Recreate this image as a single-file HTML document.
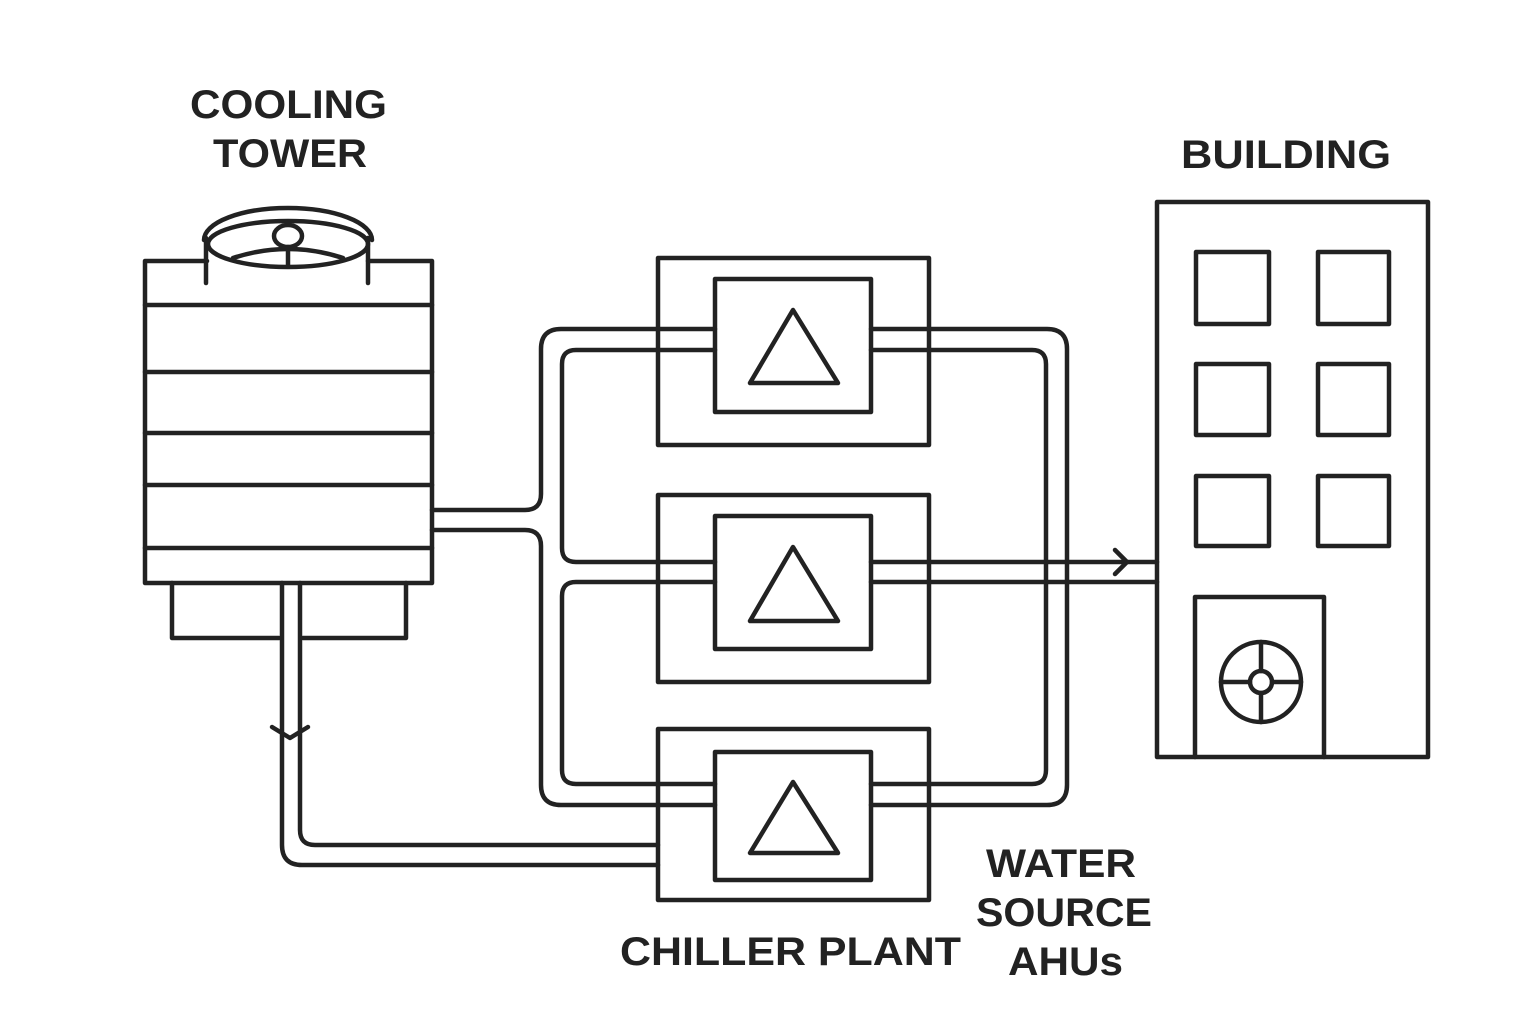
<!DOCTYPE html>
<html><head><meta charset="utf-8"><style>
html,body{margin:0;padding:0;background:#fff;}
svg{display:block;}
text{font-family:"Liberation Sans",sans-serif;font-weight:bold;fill:#222;font-size:40px;}
</style></head><body>
<svg width="1536" height="1024" viewBox="0 0 1536 1024" xmlns="http://www.w3.org/2000/svg">
<g fill="none" stroke="#222" stroke-width="4.5" stroke-linejoin="round" stroke-linecap="round">
<polyline points="207,261 145,261 145,583 432,583 432,261 368,261"/>
<line x1="145" y1="305" x2="432" y2="305"/>
<line x1="145" y1="372" x2="432" y2="372"/>
<line x1="145" y1="433" x2="432" y2="433"/>
<line x1="145" y1="485" x2="432" y2="485"/>
<line x1="145" y1="548" x2="432" y2="548"/>
<polyline points="172,583 172,638 279,638"/>
<polyline points="303,638 406,638 406,583"/>
<path d="M204,240 A84,32 0 0 1 372,240"/>
<ellipse cx="288" cy="244" rx="80" ry="23"/>
<line x1="206" y1="238" x2="206" y2="283"/>
<line x1="368" y1="238" x2="368" y2="283"/>
<ellipse cx="288" cy="236" rx="14" ry="11" fill="#fff"/>
<line x1="288" y1="247" x2="288" y2="266"/>
<path d="M233,258 Q288,240 343,258"/>
<path d="M282,583 V845 Q282,865 302,865 H658"/>
<path d="M300,583 V830 Q300,845 315,845 H658"/>
<polyline points="272,727 290,738 308,727"/>
<path d="M432,510 H525 Q541,510 541,494 V349 Q541,329 561,329 H715"/>
<path d="M432,530 H525 Q541,530 541,546 V785 Q541,805 561,805 H715"/>
<path d="M871,329 H1047 Q1067,329 1067,349 V785 Q1067,805 1047,805 H871"/>
<path d="M715,350 H576 Q562,350 562,364 V548 Q562,562 576,562 H715"/>
<path d="M715,582 H576 Q562,582 562,596 V770 Q562,784 576,784 H715"/>
<path d="M871,350 H1032 Q1046,350 1046,364 V770 Q1046,784 1032,784 H871"/>
<line x1="871" y1="562" x2="1157" y2="562"/>
<line x1="871" y1="582" x2="1157" y2="582"/>
<polyline points="1115,550 1127,562 1115,574"/>
<rect x="658" y="258" width="271" height="187"/>
<rect x="715" y="279" width="156" height="133"/>
<polygon points="793,310 750,383 838,383"/>
<rect x="658" y="495" width="271" height="187"/>
<rect x="715" y="516" width="156" height="133"/>
<polygon points="793,547 750,621 838,621"/>
<rect x="658" y="729" width="271" height="171"/>
<rect x="715" y="752" width="156" height="128"/>
<polygon points="793,782 750,853 838,853"/>
<rect x="1157" y="202" width="271" height="555"/>
<rect x="1196" y="252" width="73" height="72"/>
<rect x="1318" y="252" width="71" height="72"/>
<rect x="1196" y="364" width="73" height="71"/>
<rect x="1318" y="364" width="71" height="71"/>
<rect x="1196" y="476" width="73" height="70"/>
<rect x="1318" y="476" width="71" height="70"/>
<polyline points="1195,757 1195,597 1324,597 1324,757"/>
<circle cx="1261" cy="682" r="40"/>
<circle cx="1261" cy="682" r="11"/>
<line x1="1221" y1="682" x2="1250" y2="682"/>
<line x1="1272" y1="682" x2="1301" y2="682"/>
<line x1="1261" y1="642" x2="1261" y2="671"/>
<line x1="1261" y1="693" x2="1261" y2="722"/>
</g>
<text x="190" y="118" textLength="197" lengthAdjust="spacingAndGlyphs">COOLING</text>
<text x="213" y="167" textLength="154" lengthAdjust="spacingAndGlyphs">TOWER</text>
<text x="1181" y="168" textLength="210" lengthAdjust="spacingAndGlyphs">BUILDING</text>
<text x="620" y="965" textLength="341" lengthAdjust="spacingAndGlyphs">CHILLER PLANT</text>
<text x="986" y="877" textLength="150" lengthAdjust="spacingAndGlyphs">WATER</text>
<text x="976" y="926" textLength="176" lengthAdjust="spacingAndGlyphs">SOURCE</text>
<text x="1008" y="975" textLength="115" lengthAdjust="spacingAndGlyphs">AHUs</text>
</svg>
</body></html>
